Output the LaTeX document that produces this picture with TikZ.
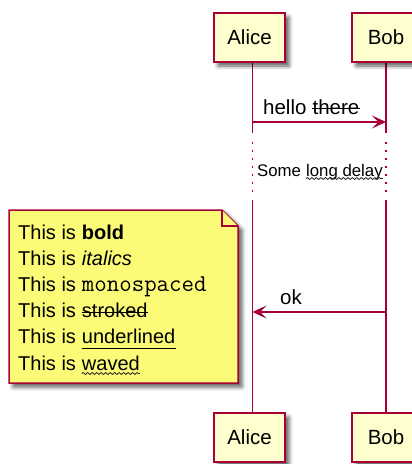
\documentclass[tikz,border=0pt]{standalone}
\usepackage{fontspec}
\setmainfont{Liberation Sans}
\usetikzlibrary{arrows.meta,shadows.blur,decorations.pathmorphing}
\definecolor{pborder}{HTML}{A80036}
\definecolor{pfill}{HTML}{FEFECE}
\definecolor{nfill}{HTML}{FBFB77}
\tikzset{
  myshadow/.style={blur shadow={shadow xshift=4pt, shadow yshift=-4pt, shadow blur radius=4pt, shadow opacity=65}},
  participant/.style={draw=pborder, fill=pfill, line width=1.5pt, minimum height=49pt, inner sep=0pt, font=\fontsize{20.5}{24}\selectfont, myshadow},
  lifeline/.style={draw=pborder, line width=1.5pt},
  delaydots/.style={draw=pborder, line width=1.5pt, dash pattern=on 1.5pt off 6.5pt},
  msg/.style={draw=pborder, line width=1.5pt, -{Stealth[length=14pt,width=13pt,inset=6.5pt]}},
  msgtext/.style={font=\fontsize{20.5}{24}\selectfont, inner sep=0pt, anchor=base west},
  delaytext/.style={font=\fontsize{16.8}{20}\selectfont, inner sep=0pt, anchor=base west},
  notetext/.style={font=\fontsize{20}{26}\selectfont, inner sep=0pt, anchor=base west},
  notebody/.style={draw=pborder, fill=nfill, line width=1.5pt, line join=miter},
  strikeline/.style={draw=black, line width=1.4pt},
  wavyline/.style={draw=black!85, line width=0.8pt, decorate, decoration={snake, amplitude=1pt, segment length=4.5pt}},
}
\begin{document}
\begin{tikzpicture}[x=1pt, y=-1pt]
\useasboundingbox (0,0) rectangle (412,464);
% lifelines
\coordinate (a0) at (252.5,62);
\coordinate (a1) at (252.5,133);
\coordinate (a2) at (252.5,142);
\coordinate (a3) at (252.5,197);
\coordinate (a4) at (252.5,200);
\coordinate (a5) at (252.5,413);
\coordinate (b0) at (386,62);
\coordinate (b1) at (386,133);
\coordinate (b2) at (386,142);
\coordinate (b3) at (386,197);
\coordinate (b4) at (386,200);
\coordinate (b5) at (386,413);
\draw[lifeline] (a0) -- (a1);
\draw[delaydots] (a2) -- (a3);
\draw[lifeline] (a4) -- (a5);
\draw[lifeline] (b0) -- (b1);
\draw[delaydots] (b2) -- (b3);
\draw[lifeline] (b4) -- (b5);
% participants
\node[participant, minimum width=71pt] (A1) at (249.5,37.5) {Alice};
\node[participant, minimum width=68pt] (B1) at (386,37.5) {Bob};
\node[participant, minimum width=71pt] (A2) at (249.5,437.5) {Alice};
\node[participant, minimum width=68pt] (B2) at (386,437.5) {Bob};
% message hello there
\coordinate (m1a) at (252.5,122);
\coordinate (m1b) at (386,122);
\draw[msg] (m1a) -- (m1b);
\node[msgtext] (t1a) at (263,114) {hello};
\node[msgtext] (t1b) at ([xshift=5.7pt]t1a.base east) {there};
\draw[strikeline] ([yshift=5.7pt]t1b.base west) -- ([yshift=5.7pt]t1b.base east);
% delay
\node[delaytext] (dla) at (257,176) {Some};
\node[delaytext] (dlb) at ([xshift=4.67pt]dla.base east) {long delay};
\draw[wavyline] ([yshift=-2.5pt]dlb.base west) -- ([yshift=-2.5pt]dlb.base east);
% message ok
\coordinate (m2a) at (252.5,312);
\coordinate (m2b) at (386,312);
\draw[msg] (m2b) -- (m2a);
\node[msgtext] (t2) at (280,304) {ok};
% note
\coordinate (n1) at (9,210);
\coordinate (n2) at (222,210);
\coordinate (n3) at (238,226);
\coordinate (n4) at (238,383);
\coordinate (n5) at (9,383);
\coordinate (n6) at (222,226);
\path[notebody, myshadow] (n1) -- (n2) -- (n3) -- (n4) -- (n5) -- cycle;
\draw[notebody] (n2) -- (n6) -- (n3);
\node[notetext] (p1) at (18,239.5) {This is};
\node[notetext] (w1) at ([xshift=5.56pt]p1.base east) {\textbf{bold}};
\node[notetext] (p2) at (18,265.6) {This is};
\node[notetext] (w2) at ([xshift=5.56pt]p2.base east) {\textit{italics}};
\node[notetext] (p3) at (18,291.7) {This is};
\node[notetext] (w3) at ([xshift=5.56pt]p3.base east) {\fontsize{24.2}{26}\ttfamily monospaced};
\node[notetext] (p4) at (18,317.8) {This is};
\node[notetext] (w4) at ([xshift=5.56pt]p4.base east) {stroked};
\draw[strikeline] ([yshift=5.2pt]w4.base west) -- ([yshift=5.2pt]w4.base east);
\node[notetext] (p5) at (18,343.9) {This is};
\node[notetext] (w5) at ([xshift=5.56pt]p5.base east) {underlined};
\draw[strikeline] ([yshift=-4.5pt]w5.base west) -- ([yshift=-4.5pt]w5.base east);
\node[notetext] (p6) at (18,370) {This is};
\node[notetext] (w6) at ([xshift=5.56pt]p6.base east) {waved};
\draw[wavyline] ([yshift=-3.5pt]w6.base west) -- ([yshift=-3.5pt]w6.base east);
\end{tikzpicture}
\end{document}
